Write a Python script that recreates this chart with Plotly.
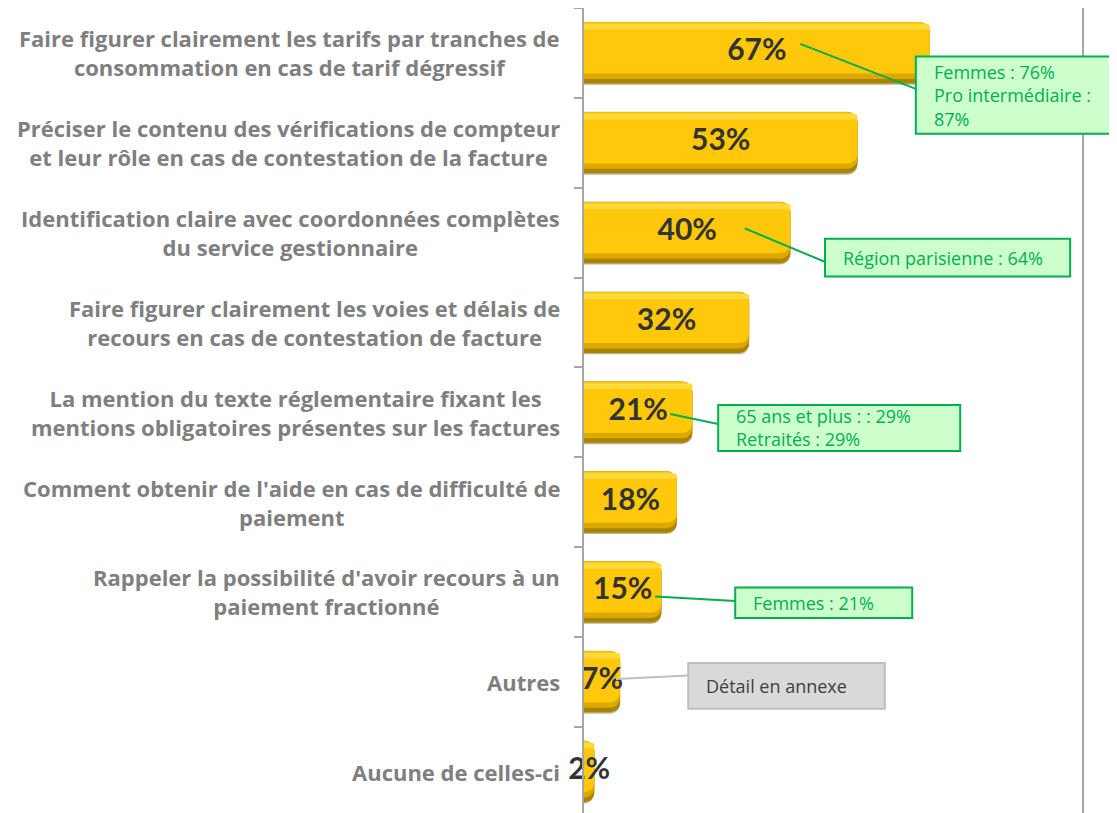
import plotly.graph_objects as go

categories = [
    "Faire figurer clairement les tarifs par tranches de<br>consommation en cas de tarif dégressif",
    "Préciser le contenu des vérifications de compteur<br>et leur rôle en cas de contestation de la facture",
    "Identification claire avec coordonnées complètes<br>du service gestionnaire",
    "Faire figurer clairement les voies et délais de<br>recours en cas de contestation de facture",
    "La mention du texte réglementaire fixant les<br>mentions obligatoires présentes sur les factures",
    "Comment obtenir de l'aide en cas de difficulté de<br>paiement",
    "Rappeler la possibilité d'avoir recours à un<br>paiement fractionné",
    "Autres",
    "Aucune de celles-ci",
]
values = [67, 53, 40, 32, 21, 18, 15, 7, 2]
value_labels = [f"{v}%" for v in values]

callout_texts = [
    "Femmes : 76%<br>Pro intermédiaire :<br>87%",
    "Région parisienne : 64%",
    "65 ans et plus : : 29%<br>Retraités : 29%",
    "Femmes : 21%",
    "Détail en annexe",
]

XMAX = 96.5
LABEL_FONT = "Open Sans"
VALUE_FONT = "Lato"
idx = list(range(len(categories)))

fig = go.Figure()
bar_layers = [
    (0.70, -0.345, "#BDB49A", 10),
    (0.68, -0.34, "#A88400", 10),
    (0.63, -0.34, "#DDA800", 10),
    (0.57, -0.34, "#FFC80A", 10),
    (0.06, -0.32, "#FFDA3A", 3),
]
for w, off, col, cr in bar_layers:
    fig.add_trace(go.Bar(x=values, y=idx, orientation="h", width=w, offset=off,
                         marker=dict(color=col, cornerradius=cr, line=dict(width=0)),
                         hoverinfo="skip", showlegend=False))
fig.add_trace(go.Scatter(x=[v / 2 for v in values], y=idx, mode="text", text=value_labels,
                         textfont=dict(family=VALUE_FONT, size=30, color="#333333", weight="bold"),
                         cliponaxis=False, hoverinfo="skip", showlegend=False))

annotations = []
for i, c in enumerate(categories):
    annotations.append(dict(x=0, xref="paper", y=i, yref="y", xanchor="right", yanchor="middle",
                            xshift=-22, text=c, showarrow=False, align="center",
                            font=dict(family=LABEL_FONT, size=22, color="#7F7F7F", weight="bold")))

green = dict(fill="#CCFFCC", line="#00B050", text="#00B050")
gray = dict(fill="#D9D9D9", line="#BFBFBF", text="#404040")
callouts = [
    (0, 64.3, 105.0, 0.04, 0.90, 41.9, -0.10, 64.3, 0.40, green),
    (1, 46.7, 94.2, 2.07, 2.49, 31.2, 1.955, 47.7, 2.35, green),
    (2, 26.0, 72.9, 3.92, 4.43, 16.7, 4.02, 26.0, 4.13, green),
    (3, 29.3, 63.6, 5.95, 6.29, 13.8, 6.05, 29.3, 6.10, green),
    (4, 20.2, 58.3, 6.79, 7.30, 6.2, 6.97, 20.2, 6.93, gray),
]
shapes = []
for ti, x0, x1, y0, y1, lx0, ly0, lx1, ly1, st in callouts:
    shapes.append(dict(type="line", xref="x", yref="y", x0=lx0, y0=ly0, x1=lx1, y1=ly1,
                       line=dict(color=st["line"], width=2), layer="above"))
    shapes.append(dict(type="rect", xref="paper", yref="y", x0=x0 / XMAX, x1=x1 / XMAX, y0=y0, y1=y1,
                       fillcolor=st["fill"], line=dict(color=st["line"], width=2), layer="above"))
    annotations.append(dict(x=x0 / XMAX, xref="paper", y=(y0 + y1) / 2, yref="y", xanchor="left",
                            yanchor="middle", xshift=16, text=callout_texts[ti], showarrow=False,
                            align="left",
                            font=dict(family=LABEL_FONT, size=18, color=st["text"])))

fig.update_layout(
    width=1117, height=813,
    margin=dict(l=576, r=43, t=0, b=0),
    plot_bgcolor="white", paper_bgcolor="white",
    barmode="overlay",
    xaxis=dict(range=[0, XMAX], showgrid=False, zeroline=False, showticklabels=False, ticks=""),
    yaxis=dict(range=[8.55, -0.5], showgrid=False, zeroline=False, showticklabels=False,
               tickmode="array", tickvals=[k - 0.5 for k in range(len(categories) + 1)],
               ticks="outside", ticklen=8, tickcolor="#A6A6A6", tickwidth=2,
               showline=True, linecolor="#A6A6A6", linewidth=2, mirror=True),
    shapes=shapes,
    annotations=annotations,
)

fig.write_html("out.html")
